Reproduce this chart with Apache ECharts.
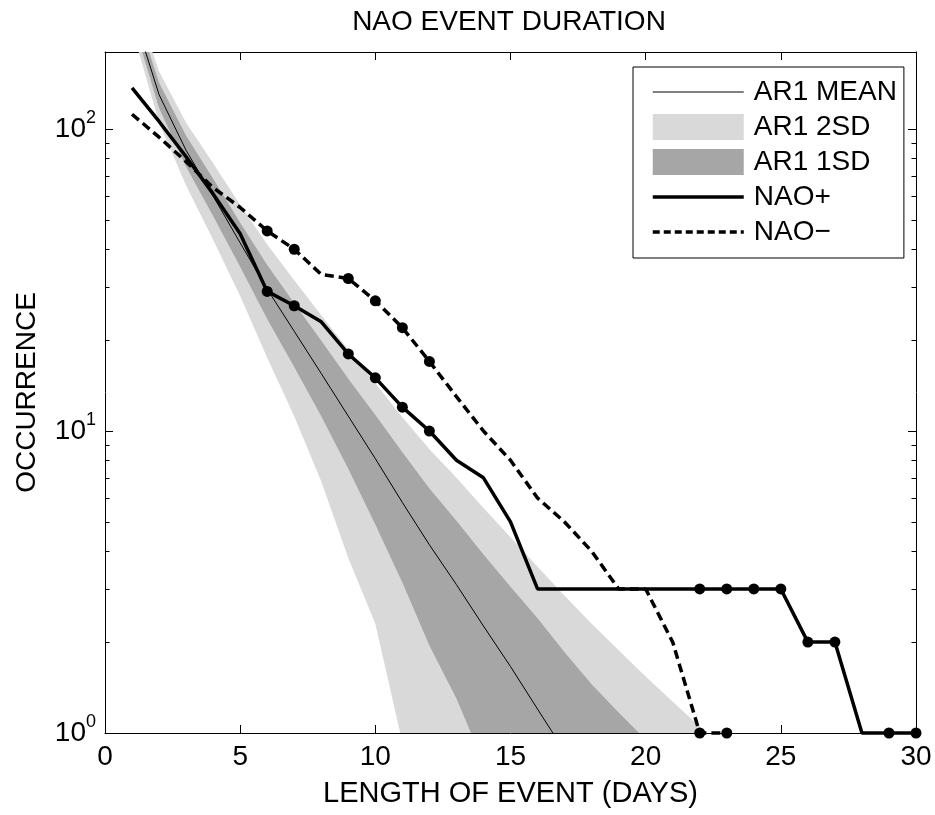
<!DOCTYPE html>
<html><head><meta charset="utf-8">
<script src="https://cdn.jsdelivr.net/npm/echarts@6/dist/echarts.min.js"></script>
<style>html,body{margin:0;padding:0;background:#fff}#c{width:935px;height:815px}</style>
</head><body><div id="c"></div>
<script>
const FONT = '"Liberation Sans", Arial, Helvetica, sans-serif';

const days = [1,2,3,4,5,6,7,8,9,10,11,12,13,14,15,16,17,18,19,20,21,22,23,24,25,26,27,28,29,30];
const naoPlus = [137,106,81,61,45,29,26,23,18,15,12,10,8,7,5,3,3,3,3,3,3,3,3,3,3,2,2,1,1,1];
const naoMinus = [112,94,78,64,55,46,40,33,32,27,22,17,13,10,8,6,5,4,3,3,2,1,1];
const naoPlusMarkedDays = [6,7,9,10,11,12,22,23,24,25,26,27,29,30];
const naoMinusMarkedDays = [6,7,9,10,11,12,22,23];

const ar1Mean     = [250,130,85,60,42,29.5,21.4,15.5,11.2,8.1,5.8,4.2,3.1,2.26,1.66,1.2,0.87];
const ar1Upper1SD = [268,142.5,95,68.5,49,35.5,26.5,19.9,14.9,11.3,8.5,6.45,5.05,3.9,3.05,2.4,1.85,1.45,1.17,0.95];
const ar1Lower1SD = [232,117.5,75,51.5,35,23.5,16.3,11.2,7.5,4.9,3.15,1.95,1.3,0.8,0.3];
const ar1Upper2SD = [285,155,105,77,56,41.5,31.6,24.2,18.6,14.4,11.1,8.7,7.0,5.56,4.45,3.55,2.85,2.3,1.88,1.54,1.27,1.05,0.86];
const ar1Lower2SD = [215,105,65,43,28,17.5,11.2,6.8,3.8,2.3,0.93,0.3];

const minorTickValues = [2,3,4,5,6,7,8,9,20,30,40,50,60,70,80,90];

const chart = echarts.init(document.getElementById('c'));

function band(name, upper, lower, color, z) {
  return {
    name: name, type: 'custom', coordinateSystem: 'cartesian2d', clip: true, silent: true, z: z,
    data: [[1, 10]],
    itemStyle: {color: color},
    renderItem: function (params, api) {
      const pts = [];
      for (let i = 0; i < upper.length; i++) pts.push(api.coord([days[i], upper[i]]));
      for (let i = lower.length - 1; i >= 0; i--) pts.push(api.coord([days[i], lower[i]]));
      return {type: 'polygon', shape: {points: pts}, style: {fill: color, stroke: null}};
    }
  };
}

const pair = (arr) => arr.map((v, i) => [days[i], v]);
const noSym = {color: 'rgba(0,0,0,0)', opacity: 0, borderWidth: 0};

const axisCommon = {
  axisLine: {show: true, onZero: false, lineStyle: {color: '#000', width: 1}},
  axisTick: {show: true, inside: true, length: 8, lineStyle: {color: '#000'}},
  splitLine: {show: false}
};

chart.setOption({
  animation: false,
  backgroundColor: '#fff',
  title: {
    text: 'NAO EVENT DURATION', left: 504, top: 3, textAlign: 'center',
    textStyle: {fontFamily: FONT, fontSize: 28, fontWeight: 'normal', color: '#000'}
  },
  grid: {left: 105, top: 52, width: 811, height: 681, containLabel: false},
  legend: {
    orient: 'vertical', left: 633, top: 67, z: 20,
    padding: [11, 7, 12, 18], borderColor: '#000', borderWidth: 1, backgroundColor: '#fff',
    itemWidth: 91, itemHeight: 26, itemGap: 7, selectedMode: false,
    textStyle: {fontFamily: FONT, fontSize: 28, color: '#000', padding: [0, 0, 0, 5]},
    data: [
      {name: 'AR1 MEAN', itemStyle: noSym, lineStyle: {color: '#000', width: 1}},
      {name: 'AR1 2SD', icon: 'rect'},
      {name: 'AR1 1SD', icon: 'rect'},
      {name: 'NAO+', itemStyle: noSym, lineStyle: {color: '#000', width: 3.5}},
      {name: 'NAO\u2212', itemStyle: noSym, lineStyle: {color: '#000', width: 3.5, type: [7, 4]}}
    ]
  },
  xAxis: [Object.assign({
    type: 'value', min: 0, max: 30, interval: 5, position: 'bottom',
    axisLabel: {fontFamily: FONT, fontSize: 28, color: '#000', margin: 10},
    name: 'LENGTH OF EVENT (DAYS)', nameLocation: 'middle', nameGap: 46,
    nameTextStyle: {fontFamily: FONT, fontSize: 29, color: '#000'}
  }, axisCommon), Object.assign({
    type: 'value', min: 0, max: 30, interval: 5, position: 'top',
    axisLabel: {show: false}
  }, axisCommon)],
  yAxis: [Object.assign({
    type: 'log', logBase: 10, min: 1, max: 180, position: 'left',
    axisLabel: {
      margin: 9,
      formatter: function (v) {
        const e = Math.log10(v); const r = Math.round(e);
        if (Math.abs(e - r) > 1e-6) return '';
        return '{b|10}{s|' + r + '}';
      },
      rich: {
        b: {fontFamily: FONT, fontSize: 28, color: '#000', lineHeight: 40, verticalAlign: 'middle'},
        s: {fontFamily: FONT, fontSize: 18, color: '#000', lineHeight: 20, verticalAlign: 'top'}
      }
    },
    name: 'OCCURRENCE', nameLocation: 'middle', nameGap: 64, nameRotate: 90,
    nameTextStyle: {fontFamily: FONT, fontSize: 28, color: '#000'}
  }, axisCommon), Object.assign({
    type: 'log', logBase: 10, min: 1, max: 180, position: 'right',
    axisLabel: {show: false}
  }, axisCommon)],
  series: [
    band('AR1 2SD', ar1Upper2SD, ar1Lower2SD, '#d9d9d9', 1),
    band('AR1 1SD', ar1Upper1SD, ar1Lower1SD, '#a6a6a6', 1.5),
    {
      name: 'AR1 MEAN', type: 'line', data: pair(ar1Mean), symbol: 'none', clip: true, z: 3,
      lineStyle: {color: '#000', width: 1}, itemStyle: {color: '#000'}
    },
    {
      name: 'NAO+', type: 'line', data: pair(naoPlus), symbol: 'none', clip: false, z: 4,
      lineStyle: {color: '#000', width: 3.5}, itemStyle: {color: '#000'}
    },
    {
      name: 'NAO\u2212', type: 'line', data: pair(naoMinus), symbol: 'none', clip: false, z: 4,
      lineStyle: {color: '#000', width: 3.5, type: [9, 5]}, itemStyle: {color: '#000'}
    },
    {
      type: 'scatter', data: naoPlusMarkedDays.map(d => [d, naoPlus[d - 1]]), symbol: 'circle',
      symbolSize: 11, clip: false, z: 5, itemStyle: {color: '#000', opacity: 1}, silent: true
    },
    {
      type: 'scatter', data: naoMinusMarkedDays.map(d => [d, naoMinus[d - 1]]), symbol: 'circle',
      symbolSize: 11, clip: false, z: 5, itemStyle: {color: '#000', opacity: 1}, silent: true
    },
    {
      type: 'custom', coordinateSystem: 'cartesian2d', clip: false, silent: true, z: 6,
      data: minorTickValues.map(v => [0, v]),
      renderItem: function (params, api) {
        const v = api.value(1);
        const pl = api.coord([0, v]);
        const pr = api.coord([30, v]);
        const y = Math.round(pl[1]) + 0.5;
        return {type: 'group', children: [
          {type: 'line', shape: {x1: pl[0], y1: y, x2: pl[0] + 4.5, y2: y}, style: {stroke: '#000', lineWidth: 1}},
          {type: 'line', shape: {x1: pr[0], y1: y, x2: pr[0] - 4.5, y2: y}, style: {stroke: '#000', lineWidth: 1}}
        ]};
      }
    }
  ]
});
</script></body></html>
